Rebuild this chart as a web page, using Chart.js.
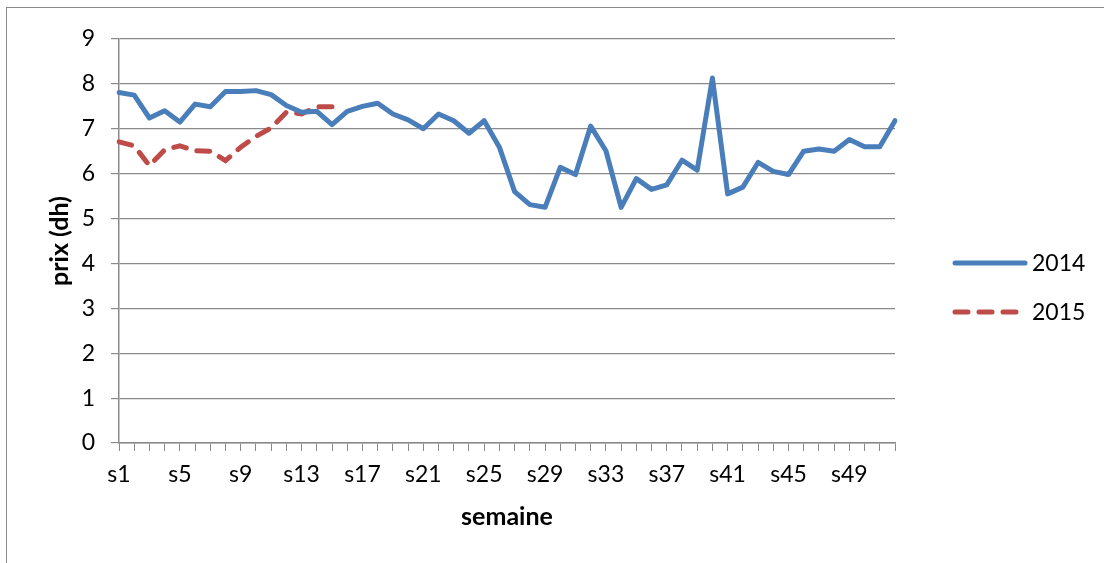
<!DOCTYPE html>
<html>
<head>
<meta charset="utf-8">
<script src="https://cdn.jsdelivr.net/npm/chart.js@4.4.1/dist/chart.umd.min.js"></script>
<style>
  body { margin: 0; background: #fff; }
  #wrap { position: relative; width: 1104px; height: 563px; overflow: hidden; }
  #frame { position: absolute; left: 6px; top: 7px; width: 1200px; height: 700px; border: 1.5px solid #8a8a8a; }
  canvas { position: absolute; left: 0; top: 0; }
</style>
</head>
<body>
<div id="wrap">
  <div id="frame"></div>
  <canvas id="chart" width="1104" height="563"></canvas>
</div>
<script>
const weeks = ['s1','s2','s3','s4','s5','s6','s7','s8','s9','s10','s11','s12','s13',
  's14','s15','s16','s17','s18','s19','s20','s21','s22','s23','s24','s25','s26',
  's27','s28','s29','s30','s31','s32','s33','s34','s35','s36','s37','s38','s39',
  's40','s41','s42','s43','s44','s45','s46','s47','s48','s49','s50','s51','s52'];

const prix2014 = [7.81, 7.75, 7.24, 7.40, 7.15, 7.55, 7.49, 7.83, 7.83, 7.85,
  7.76, 7.52, 7.37, 7.39, 7.09, 7.39, 7.50, 7.57, 7.33, 7.20,
  7.00, 7.33, 7.18, 6.90, 7.18, 6.59, 5.60, 5.31, 5.25, 6.14,
  5.98, 7.06, 6.51, 5.25, 5.89, 5.65, 5.75, 6.30, 6.08, 8.13,
  5.55, 5.70, 6.25, 6.05, 5.98, 6.50, 6.55, 6.50, 6.76, 6.60,
  6.60, 7.18];

const prix2015 = [6.71, 6.62, 6.18, 6.53, 6.62, 6.51, 6.50, 6.29, 6.59, 6.83,
  7.02, 7.37, 7.33, 7.49, 7.49];

const FONT = 'Lato';
const GRID = '#8a8a8a';

// legend drawn at the right like the original sheet
const sideLegend = {
  id: 'sideLegend',
  afterDraw(chart) {
    const ctx = chart.ctx;
    ctx.save();
    chart.data.datasets.forEach(function (ds, i) {
      const y = 263 + i * 49;
      ctx.strokeStyle = ds.borderColor;
      ctx.lineWidth = ds.borderWidth;
      ctx.lineCap = 'round';
      ctx.setLineDash(ds.borderDash || []);
      ctx.beginPath();
      ctx.moveTo(955, y);
      ctx.lineTo(1025, y);
      ctx.stroke();
      ctx.setLineDash([]);
      ctx.fillStyle = '#000';
      ctx.font = '23px ' + FONT;
      ctx.textBaseline = 'middle';
      ctx.fillText(ds.label, 1032, y + 1);
    });
    ctx.restore();
  }
};

new Chart(document.getElementById('chart'), {
  type: 'line',
  data: {
    labels: weeks,
    datasets: [{
      label: '2014',
      data: prix2014,
      borderColor: '#4a7ebb',
      borderWidth: 5,
      pointRadius: 0,
      tension: 0,
      borderCapStyle: 'round',
      borderJoinStyle: 'round'
    }, {
      label: '2015',
      data: prix2015,
      borderColor: '#be4b48',
      borderWidth: 5,
      borderDash: [13, 11],
      borderCapStyle: 'round',
      pointRadius: 0,
      tension: 0
    }]
  },
  options: {
    responsive: false,
    animation: false,
    layout: { padding: { top: 39, right: 209, left: 0, bottom: 0 } },
    plugins: {
      legend: { display: false },
      tooltip: { enabled: false }
    },
    scales: {
      x: {
        offset: false,
        afterFit: function (s) { s.height = 120; },
        grid: { drawOnChartArea: false, color: GRID, tickLength: 8, lineWidth: 1 },
        border: { color: GRID, width: 1.5 },
        ticks: {
          autoSkip: false,
          maxRotation: 0,
          padding: 10,
          color: '#000',
          font: { family: FONT, size: 23 },
          callback: function (v, i) { return i % 4 === 0 ? this.getLabelForValue(v) : ''; }
        },
        title: {
          display: true,
          text: 'semaine',
          color: '#000',
          font: { family: FONT, size: 25, weight: 'bold' },
          padding: { bottom: 31 }
        }
      },
      y: {
        min: 0,
        max: 9,
        afterFit: function (s) { s.width = 119; },
        grid: { color: GRID, tickLength: 8, lineWidth: 1.2 },
        border: { color: GRID, width: 1.5 },
        ticks: {
          stepSize: 1,
          padding: 16,
          color: '#000',
          font: { family: FONT, size: 23 }
        },
        title: {
          display: true,
          text: 'prix (dh)',
          color: '#000',
          font: { family: FONT, size: 25, weight: 'bold' },
          padding: { top: 45 }
        }
      }
    }
  },
  plugins: [sideLegend]
});
</script>
</body>
</html>
